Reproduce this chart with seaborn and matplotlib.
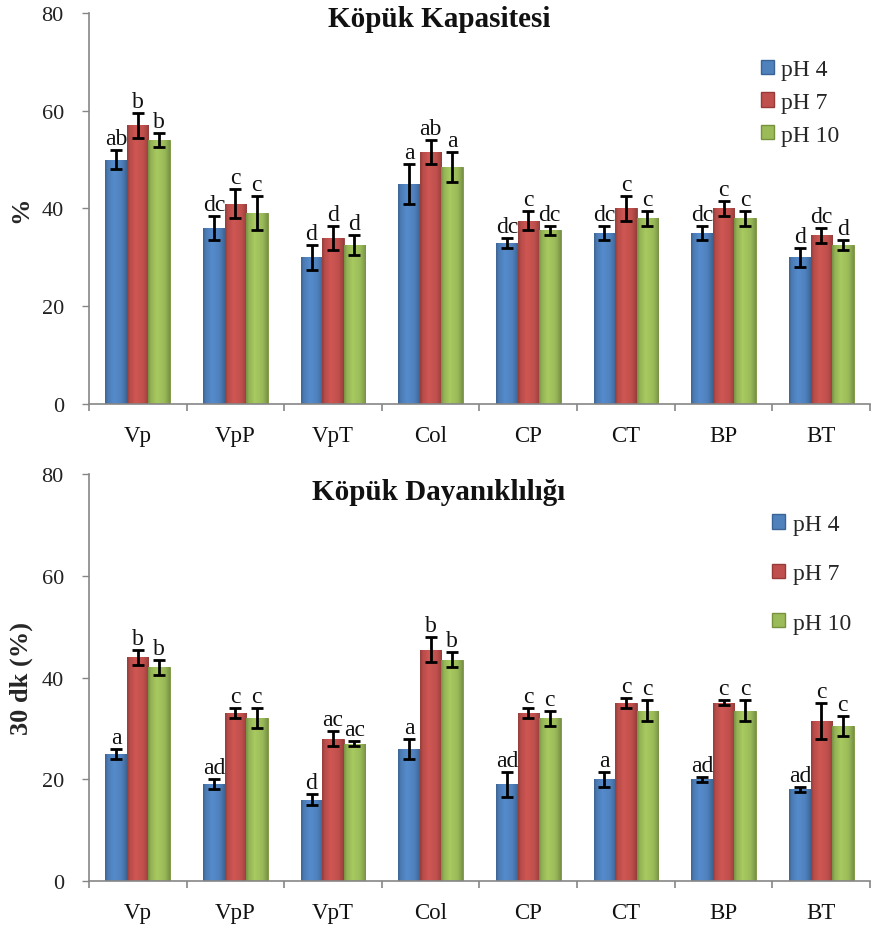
import matplotlib
matplotlib.use("Agg")
import matplotlib.pyplot as plt
import matplotlib.colors as mcolors
import seaborn as sns
import pandas as pd
import numpy as np
from matplotlib.patches import Patch

categories = ["Vp", "VpP", "VpT", "Col", "CP", "CT", "BP", "BT"]
series = ["pH 4", "pH 7", "pH 10"]

# Köpük Kapasitesi
cap_ph4 = [50, 36, 30, 45, 33, 35, 35, 30]
cap_ph7 = [57, 41, 34, 51.5, 37.5, 40, 40, 34.5]
cap_ph10 = [54, 39, 32.5, 48.5, 35.5, 38, 38, 32.5]
cap_err4 = [2, 2.5, 2.5, 4, 1, 1.5, 1.5, 2]
cap_err7 = [2.5, 3, 2.5, 2.5, 2, 2.5, 1.5, 1.5]
cap_err10 = [1.5, 3.5, 2, 3, 1, 1.5, 1.5, 1]
cap_let4 = ["ab", "dc", "d", "a", "dc", "dc", "dc", "d"]
cap_let7 = ["b", "c", "d", "ab", "c", "c", "c", "dc"]
cap_let10 = ["b", "c", "d", "a", "dc", "c", "c", "d"]

# Köpük Dayanıklılığı
dur_ph4 = [25, 19, 16, 26, 19, 20, 20, 18]
dur_ph7 = [44, 33, 28, 45.5, 33, 35, 35, 31.5]
dur_ph10 = [42, 32, 27, 43.5, 32, 33.5, 33.5, 30.5]
dur_err4 = [1, 1, 1, 2, 2.5, 1.5, 0.5, 0.5]
dur_err7 = [1.5, 1, 1.5, 2.5, 1, 1, 0.5, 3.5]
dur_err10 = [1.5, 2, 0.5, 1.5, 1.5, 2, 2, 2]
dur_let4 = ["a", "ad", "d", "a", "ad", "a", "ad", "ad"]
dur_let7 = ["b", "c", "ac", "b", "c", "c", "c", "c"]
dur_let10 = ["b", "c", "ac", "b", "c", "c", "c", "c"]

colors = ["#4F81BD", "#C0504D", "#9BBB59"]
edges = ["#3A6496", "#973A38", "#76923C"]

sns.set_theme(style="white")
plt.rcParams["font.family"] = ["Liberation Serif", "DejaVu Serif"]

fig = plt.figure(figsize=(8.71, 9.28), dpi=100)
ax1 = fig.add_axes([0.102, 0.5636, 0.897, 0.4214])
ax2 = fig.add_axes([0.102, 0.0496, 0.897, 0.4385])

# horizontal shading profile giving the bars a soft cylindrical look
_t = np.linspace(0, 1, 40)
_shade = np.interp(_t, [0, 0.12, 0.4, 0.75, 0.9, 1.0],
                   [0.78, 0.95, 1.08, 1.0, 0.88, 0.78])


def shade_bar(ax, p, color):
    rgb = np.array(mcolors.to_rgb(color))
    arr = np.clip(rgb[None, None, :] * _shade[None, :, None], 0, 1)
    x0 = p.get_x()
    x1 = x0 + p.get_width()
    h = p.get_height()
    im = ax.imshow(arr, extent=[x0, x1, 0, h], aspect="auto",
                   interpolation="bilinear", zorder=p.get_zorder() + 0.1)
    im.set_clip_path(p)


def draw(ax, vals, errs, lets, title, ylabel, title_y, ylab_x,
         legend_spacing, legend_xy):
    rows = []
    for s, v in zip(series, vals):
        for c, x in zip(categories, v):
            rows.append({"cat": c, "ser": s, "val": x})
    df = pd.DataFrame(rows)
    sns.barplot(data=df, x="cat", y="val", hue="ser", order=categories,
                hue_order=series, palette=colors, errorbar=None,
                width=0.66, ax=ax, legend=False, saturation=1)
    bars = [p for p in ax.patches]
    for si in range(3):
        for ci in range(len(categories)):
            p = bars[si * len(categories) + ci]
            p.set_edgecolor(edges[si])
            p.set_linewidth(0.6)
            shade_bar(ax, p, colors[si])
            xc = p.get_x() + p.get_width() / 2
            h = p.get_height()
            e = errs[si][ci]
            ax.errorbar(xc, h, yerr=e, fmt="none", ecolor="black",
                        elinewidth=2, capsize=4, capthick=2, zorder=5)
            ax.text(xc, h + e + 0.2, lets[si][ci], ha="center", va="bottom",
                    fontsize=17, color="#111111", zorder=6)
    ax.set_ylim(0, 80)
    ax.set_xlim(-0.5, len(categories) - 0.5)
    ax.set_aspect("auto")
    ax.set_yticks([0, 20, 40, 60, 80])
    ax.tick_params(axis="y", labelsize=16, length=5, width=1, colors="#868686",
                   labelcolor="#222222", direction="out", left=True, pad=13)
    ax.set_xticks(range(len(categories)))
    ax.set_xticklabels(categories)
    ax.tick_params(axis="x", which="major", labelsize=16.5, length=0,
                   labelcolor="#111111", pad=15)
    ax.set_xticks(np.arange(-0.5, len(categories), 1.0), minor=True)
    ax.tick_params(axis="x", which="minor", length=5, width=1.2,
                   colors="#868686", direction="out", bottom=True)
    for side in ["top", "right"]:
        ax.spines[side].set_visible(False)
    for side in ["left", "bottom"]:
        ax.spines[side].set_color("#868686")
        ax.spines[side].set_linewidth(1.2)
    ax.set_xlabel("")
    ax.set_ylabel(ylabel, fontsize=19, fontweight="bold")
    ax.yaxis.set_label_coords(ylab_x, 0.5)
    ax.text(0.448, title_y, title, transform=ax.transAxes, ha="center",
            va="center", fontsize=21, fontweight="bold", color="#111111")
    handles = [Patch(facecolor=c, edgecolor=e) for c, e in zip(colors, edges)]
    ax.legend(handles, series, loc="upper left", bbox_to_anchor=legend_xy,
              frameon=False, fontsize=17, handlelength=0.55, handleheight=0.55,
              handletextpad=0.3, labelspacing=legend_spacing, borderaxespad=0,
              borderpad=0)


draw(ax1, [cap_ph4, cap_ph7, cap_ph10], [cap_err4, cap_err7, cap_err10],
     [cap_let4, cap_let7, cap_let10], "Köpük Kapasitesi", "%", 0.985, -0.073,
     0.5, (0.86, 0.882))
draw(ax2, [dur_ph4, dur_ph7, dur_ph10], [dur_err4, dur_err7, dur_err10],
     [dur_let4, dur_let7, dur_let10], "Köpük Dayanıklılığı", "30 dk (%)",
     0.958, -0.072, 1.2, (0.875, 0.902))

fig.savefig("out.png", dpi=100)
